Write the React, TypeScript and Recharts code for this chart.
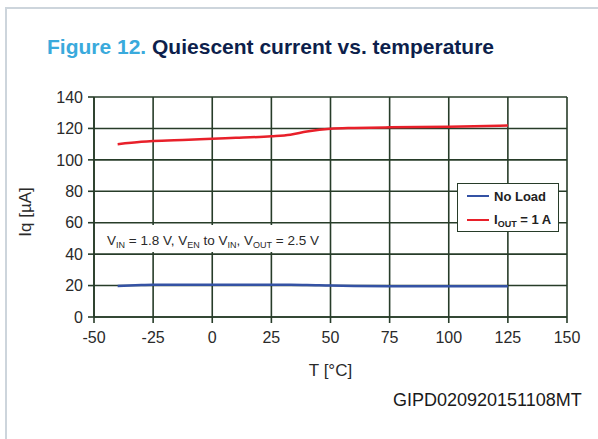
import React from "react";
import { CartesianGrid, Line, LineChart, XAxis, YAxis } from "recharts";

const temps = [-40, -30, -25, -10, 0, 10, 25, 33, 40, 50, 60, 75, 100, 125];
const noLoad = [19.8, 20.3, 20.5, 20.5, 20.5, 20.5, 20.5, 20.5, 20.4, 20, 19.8, 19.6, 19.5, 19.5];
const iout1A = [110, 111.5, 112, 112.8, 113.5, 114, 115, 116, 118, 119.8, 120.3, 120.7, 121, 121.8];

const xTicks = [-50, -25, 0, 25, 50, 75, 100, 125, 150];
const yTicks = [0, 20, 40, 60, 80, 100, 120, 140];

const data = temps.map((t, i) => ({ t, noLoad: noLoad[i], iout: iout1A[i] }));

const FONT = '"Liberation Sans", Arial, sans-serif';
const GRID = "#273c29";
const BLUE = "#3452a4";
const RED = "#e8202a";

function LegendBox() {
  const row = (color: string, label: React.ReactNode) => (
    <div style={{ display: "flex", alignItems: "center", height: 24 }}>
      <div style={{ width: 22, height: 2, background: color, marginRight: 5 }} />
      <span style={{ fontWeight: "bold", fontSize: 13, color: "#222" }}>{label}</span>
    </div>
  );
  return (
    <div
      style={{
        position: "absolute",
        left: 457,
        top: 183,
        boxSizing: "border-box",
        width: 102,
        height: 49,
        border: `1.5px solid ${GRID}`,
        background: "#fff",
        padding: "0 0 0 9px",
        fontFamily: FONT,
      }}
    >
      {row(BLUE, "No Load")}
      {row(
        RED,
        <>
          I<sub style={{ fontSize: 9, verticalAlign: "-3px" }}>OUT</sub> = 1 A
        </>
      )}
    </div>
  );
}

export default function App() {
  const sub = { fontSize: 9, verticalAlign: "-3px" };
  return (
    <div style={{ position: "absolute", left: 0, top: 0, width: 598, height: 439, background: "#fff", overflow: "hidden", fontFamily: FONT }}>
      <div style={{ position: "absolute", left: 5, top: 7, width: 700, height: 600, borderLeft: "2px solid #cdd5dc", borderTop: "2px solid #cdd5dc" }} />
      <div style={{ position: "absolute", left: 47, top: 36, fontSize: 21, lineHeight: "21px", fontWeight: "bold", whiteSpace: "nowrap" }}>
        <span style={{ color: "#3aaadc" }}>Figure 12.</span>
        <span style={{ color: "#0d1f4c" }}> Quiescent current vs. temperature</span>
      </div>
      <div style={{ position: "absolute", left: 0, top: 0 }}>
        <LineChart width={598} height={439} data={data} margin={{ top: 97, right: 31, bottom: 0, left: 0 }}>
          <CartesianGrid stroke={GRID} strokeWidth={1.6} />
          <XAxis
            dataKey="t"
            type="number"
            domain={[-50, 150]}
            ticks={xTicks}
            height={122}
            tickSize={6}
            tickMargin={9}
            stroke={GRID}
            strokeWidth={1.6}
            tick={{ fill: "#2a2a2a", fontSize: 16, fontFamily: FONT }}
            label={{ value: "T [°C]", position: "insideBottom", offset: 63, fill: "#2a2a2a", fontSize: 17, fontFamily: FONT }}
          />
          <YAxis
            type="number"
            domain={[0, 140]}
            ticks={yTicks}
            width={94}
            tickSize={6}
            tickMargin={5}
            stroke={GRID}
            strokeWidth={1.6}
            tick={{ fill: "#2a2a2a", fontSize: 16, fontFamily: FONT }}
          />
          <Line type="monotone" dataKey="noLoad" name="No Load" stroke={BLUE} strokeWidth={2.5} dot={false} isAnimationActive={false} />
          <Line type="monotone" dataKey="iout" name="IOUT = 1 A" stroke={RED} strokeWidth={2.5} dot={false} isAnimationActive={false} />
        </LineChart>
      </div>
      <div
        style={{
          position: "absolute",
          left: 26,
          top: 212,
          transform: "translate(-50%, -50%) rotate(-90deg)",
          fontSize: 17,
          lineHeight: "20px",
          color: "#2a2a2a",
          whiteSpace: "nowrap",
        }}
      >
        Iq [µA]
      </div>
      <LegendBox />
      <div style={{ position: "absolute", left: 97, top: 225, width: 228, height: 27, background: "#fff" }} />
      <div style={{ position: "absolute", left: 107, top: 232, fontSize: 13.5, lineHeight: "18px", color: "#2a2a2a", whiteSpace: "nowrap" }}>
        V<sub style={sub}>IN</sub> = 1.8 V, V<sub style={sub}>EN</sub> to V<sub style={sub}>IN</sub>, V<sub style={sub}>OUT</sub> = 2.5 V
      </div>
      <div style={{ position: "absolute", left: 393, top: 390, fontSize: 18, lineHeight: "20px", color: "#1a1a1a", whiteSpace: "nowrap" }}>
        GIPD020920151108MT
      </div>
    </div>
  );
}
